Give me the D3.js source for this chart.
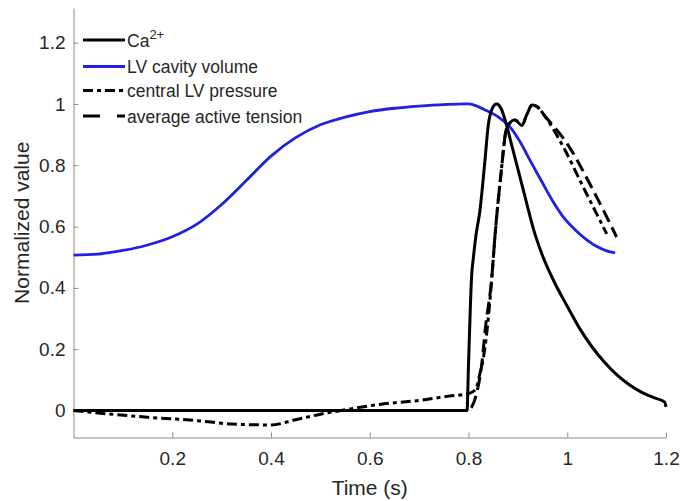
<!DOCTYPE html>
<html lang="en">
<head>
    <meta charset="UTF-8">
    <title>Normalized Ca, volume, pressure and tension</title>
    <script src="https://d3js.org/d3.v7.min.js"></script>
    <style>
        body { margin: 0; background: #fff; }
        text { font-family: "Liberation Sans", Arial, sans-serif; fill: #262626; }
        .axis path, .axis line { stroke: #8a8a8a; }
        .axis text { font-size: 19px; fill: #262626; }
        .legend text { font-size: 17.5px; }
    </style>
</head>
<body>

<svg id="chart" width="694" height="501"></svg>

<script>
    const svg = d3.select("#chart");

    // axis ticks
    const X_TICKS = [0.2, 0.4, 0.6, 0.8, 1, 1.2];
    const Y_TICKS = [0, 0.2, 0.4, 0.6, 0.8, 1, 1.2];

    // Ca2+ transient (time s, normalized)
    const caT = [0, 0.2, 0.4, 0.6, 0.797, 0.8, 0.803, 0.806, 0.81, 0.815, 0.823, 0.833, 0.84, 0.848, 0.857,
                 0.866, 0.876, 0.89, 0.904, 0.918, 0.931, 0.95, 0.972, 1.0, 1.025, 1.05, 1.075,
                 1.1, 1.125, 1.15, 1.175, 1.197, 1.2];
    const caV = [0, 0, 0, 0, 0, 0.15, 0.3, 0.43, 0.5, 0.57, 0.65, 0.81, 0.93, 0.985, 1.0,
                 0.985, 0.937, 0.85, 0.763, 0.675, 0.595, 0.505, 0.425, 0.34, 0.268, 0.208, 0.158,
                 0.117, 0.085, 0.06, 0.042, 0.028, 0.012];

    // LV cavity volume
    const volT = [0, 0.05, 0.1, 0.15, 0.2, 0.25, 0.3, 0.35, 0.4, 0.45, 0.5, 0.55, 0.6, 0.65, 0.7, 0.75, 0.8,
                  0.81, 0.837, 0.86, 0.884, 0.905, 0.925, 0.95, 0.971, 0.995, 1.019, 1.04, 1.06, 1.08, 1.097];
    const volV = [0.507, 0.51, 0.522, 0.54, 0.567, 0.608, 0.672, 0.75, 0.83, 0.89, 0.932, 0.957, 0.975, 0.986, 0.993, 0.998, 1.0,
                  0.997, 0.978, 0.958, 0.925, 0.875, 0.815, 0.742, 0.682, 0.625, 0.585, 0.556, 0.535, 0.521, 0.514];

    // central LV pressure
    const presT = [0, 0.05, 0.15, 0.25, 0.32, 0.4, 0.45, 0.5, 0.56, 0.62, 0.7, 0.76, 0.8, 0.815, 0.823, 0.83,
                   0.84, 0.847, 0.854, 0.865, 0.878, 0.894, 0.908, 0.918, 0.929, 0.94, 0.953, 0.991, 1.032, 1.08];
    const presV = [0, -0.008, -0.022, -0.033, -0.044, -0.047, -0.03, -0.012, 0.005, 0.02, 0.033, 0.047, 0.055, 0.07, 0.12, 0.17,
                   0.3, 0.43, 0.576, 0.76, 0.925, 0.948, 0.93, 0.965, 0.997, 0.99, 0.964, 0.863, 0.73, 0.576];

    // average active tension
    const tenT = [0, 0.4, 0.8, 0.806, 0.817, 0.826, 0.835, 0.847, 0.854, 0.865, 0.878, 0.894, 0.908, 0.918,
                  0.929, 0.94, 0.953, 1.0, 1.052, 1.1];
    const tenV = [0, 0, 0, 0.01, 0.06, 0.14, 0.28, 0.43, 0.576, 0.76, 0.925, 0.948, 0.93, 0.965,
                  0.997, 0.99, 0.964, 0.87, 0.72, 0.566];

    const margin = { left: 73.5, right: 28, top: 8, bottom: 63.5 };
    const width = 694 - margin.left - margin.right;
    const height = 501 - margin.top - margin.bottom;

    const x = d3.scaleLinear().domain([0, 1.2]).range([0, width]);
    const y = d3.scaleLinear().domain([-0.088, 1.313]).range([height, 0]);

    const g = svg.append("g").attr("transform", `translate(${margin.left},${margin.top})`);

    // axes, ticks pointing inward
    const xAxis = g.append("g").attr("class", "axis")
        .attr("transform", `translate(0,${height})`)
        .call(d3.axisBottom(x).tickValues(X_TICKS).tickSizeInner(-5).tickSizeOuter(0).tickPadding(14)
            .tickFormat(d3.format("~g")));
    xAxis.selectAll("text").attr("dy", "0.71em");

    g.append("g").attr("class", "axis")
        .call(d3.axisLeft(y).tickValues(Y_TICKS).tickSizeInner(-5).tickSizeOuter(0).tickPadding(8)
            .tickFormat(d3.format("~g")));

    // curves
    const line = d3.line()
        .x(d => x(d[0]))
        .y(d => y(d[1]))
        .curve(d3.curveMonotoneX);

    const series = [
        { t: volT, v: volV, color: "#1f1fe6", width: 2.8, dash: null, smooth: true },
        { t: caT, v: caV, color: "#000", width: 3, dash: null },
        { t: presT, v: presV, color: "#000", width: 3, dash: "10,4,4,4" },
        { t: tenT, v: tenV, color: "#000", width: 3, dash: "13,6" }
    ];

    series.forEach(s => {
        const gen = s.smooth ? line.curve(d3.curveCatmullRom.alpha(0.5)) : line.curve(d3.curveMonotoneX);
        g.append("path")
            .datum(d3.zip(s.t, s.v))
            .attr("fill", "none")
            .attr("stroke", s.color)
            .attr("stroke-width", s.width)
            .attr("stroke-dasharray", s.dash)
            .attr("d", gen);
    });

    // axis labels
    svg.append("text")
        .attr("x", margin.left + width / 2)
        .attr("y", 495)
        .attr("text-anchor", "middle")
        .style("font-size", "21px")
        .text("Time (s)");

    svg.append("text")
        .attr("transform", `translate(29,${margin.top + height / 2}) rotate(-90)`)
        .attr("text-anchor", "middle")
        .style("font-size", "21px")
        .text("Normalized value");

    // legend
    const legendItems = [
        { label: "Ca", sup: "2+", color: "#000", dash: null },
        { label: "LV cavity volume", color: "#1f1fe6", dash: null },
        { label: "central LV pressure", color: "#000", dash: "10,4,4,4" },
        { label: "average active tension", color: "#000", dash: "17,17" }
    ];
    const legendY = [40, 66.5, 90.5, 116];

    const legend = svg.append("g").attr("class", "legend");
    legendItems.forEach((item, i) => {
        legend.append("line")
            .attr("x1", 83).attr("x2", 125)
            .attr("y1", legendY[i]).attr("y2", legendY[i])
            .attr("stroke", item.color)
            .attr("stroke-width", 3)
            .attr("stroke-dasharray", item.dash);
        const txt = legend.append("text")
            .attr("x", 127)
            .attr("y", legendY[i] + 6.5)
            .text(item.label);
        if (item.sup) {
            txt.append("tspan")
                .attr("dy", -8)
                .style("font-size", "13px")
                .text(item.sup);
        }
    });
</script>

</body>
</html>
